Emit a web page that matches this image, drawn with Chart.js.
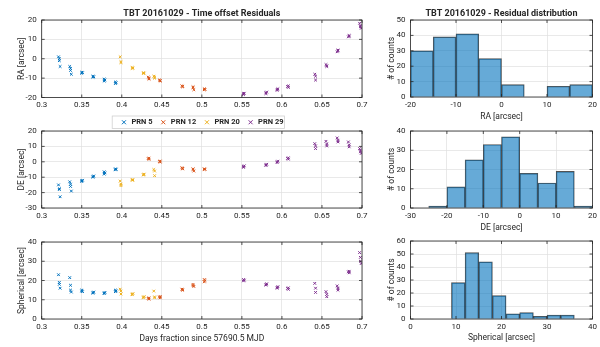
<!DOCTYPE html>
<html lang="en">
<head>
<meta charset="UTF-8" />
<title>TBT 20161029 - Time offset Residuals</title>
<script src="https://cdn.jsdelivr.net/npm/chart.js"></script>
<style>
  body { margin: 0; background: #fff; width: 600px; height: 347px; position: relative; overflow: hidden; }
  canvas { position: absolute; }
</style>
</head>
<body>

<canvas id="cRA"  width="372" height="136" style="left:0;top:0"></canvas>
<canvas id="cDE"  width="372" height="110" style="left:0;top:110px"></canvas>
<canvas id="cSPH" width="372" height="127" style="left:0;top:220px"></canvas>
<canvas id="hRA"  width="220" height="124" style="left:380px;top:0"></canvas>
<canvas id="hDE"  width="220" height="124" style="left:380px;top:110px"></canvas>
<canvas id="hSPH" width="220" height="127" style="left:380px;top:220px"></canvas>

<script>
  const FONT = 'Roboto, "Liberation Sans", sans-serif';
  const INK = '#262626';
  const GRID = '#e0e0e0';

  const prnLabels = ['PRN 5', 'PRN 12', 'PRN 20', 'PRN 29'];
  const prnColors = ['#0072BD', '#D95319', '#EDB120', '#7E2F8E'];

  // PRN 5
  const prn5T   = [0.321,0.322,0.322,0.323, 0.335,0.336,0.336,0.337, 0.350,0.350,0.351, 0.364,0.364,0.365, 0.378,0.378,0.379, 0.392,0.392,0.393];
  const prn5RA  = [1,0,-1,-4, -4,-5,-6,-8, -7,-7.5,-7.2, -9,-9.5,-9.3, -10.5,-11.5,-11, -12,-12.8,-12.4];
  const prn5DE  = [-15,-17.5,-18,-22.7, -13,-14.5,-16,-19, -12.3,-12.8,-12, -9.5,-10,-9.2, -6.5,-8,-7.2, -4.6,-5.2,-4.8];
  const prn5SPH = [23,19,18,16, 21.5,17.5,15,14, 14.5,15,14.2, 13.8,13.4,14, 13.5,13.2,13.8, 15,14.2,14.6];

  // PRN 12
  const prn12T   = [0.433,0.434,0.434, 0.447,0.448,0.448, 0.475,0.476,0.476, 0.489,0.489,0.490, 0.503,0.503,0.504];
  const prn12RA  = [-9.5,-10.5,-10, -11,-11.5,-11.2, -14,-14.5,-14.2, -14.5,-15,-16, -15.5,-16,-15.8];
  const prn12DE  = [2.1,1.6,2.4, 0.2,-0.2,0.5, -3.9,-4.3,-4.6, -4.6,-5,-6, -4.6,-5,-4.8];
  const prn12SPH = [10.7,10.3,11, 11.4,11,11.7, 15.5,15,15.2, 18,17.3,16.9, 20.5,19.3,20];

  // PRN 20
  const prn20T   = [0.398,0.399,0.399, 0.413,0.413,0.414, 0.427,0.427,0.428, 0.440,0.441,0.441];
  const prn20RA  = [1,-1.5,-2, -4.5,-5,-4.8, -7.2,-7.6,-7.4, -9,-9.5,-10];
  const prn20DE  = [-12.5,-14.5,-15.5, -11.5,-12,-11.8, -8.3,-8.6,-8, -5,-6,-9];
  const prn20SPH = [15.5,14.5,13, 12.9,12.6,13.2, 11.4,11,11.6, 14.5,11.5,11];

  // PRN 29
  const prn29T   = [0.552,0.552,0.553, 0.580,0.580,0.581, 0.594,0.594,0.595, 0.607,0.608,0.608, 0.641,0.642,0.642, 0.655,0.656,0.656, 0.669,0.670,0.670, 0.683,0.684,0.684, 0.697,0.698,0.698,0.699];
  const prn29RA  = [-18,-18.5,-17.8, -17.6,-18,-17.2, -15.8,-16.3,-15.5, -14.3,-14.8,-14, -8,-9,-11, -3,-3.6,-4, 3.6,4.1,4.5, 11.3,11.7,12, 18.3,17,16.5,15.7];
  const prn29DE  = [-3,-3.6,-2.6, -2,-2.4,-1.6, 0,-0.5,0.4, 2.2,1.7,2.6, 11.8,10.3,8.6, 13.3,11.5,10.3, 15.5,14,12.9, 12.9,11,9.7, 8.6,7.5,6.5,5.4];
  const prn29SPH = [20.5,19.8,20.2, 18,17.6,18.3, 16.4,16,16.8, 15.9,15.4,16.2, 18.5,16,13.8, 14.2,12.8,11.6, 17.2,16,15, 24.5,24,24.8, 34.5,32,30,28.8];

  // histograms: bin edges and counts
  const raEdges   = [-20,-15,-10,-5,0,5,10,15,20];
  const raCounts  = [30,39,41,25,8,0,7,8];
  const deEdges   = [-30,-25,-20,-15,-10,-5,0,5,10,15,20];
  const deCounts  = [0,1,11,25,33,37,18,13,19,1];
  const sphEdges  = [9,12,15,18,21,24,27,30,33,36];
  const sphCounts = [28,51,44,18,4,5,2,3,3];

  const prnT = [prn5T, prn12T, prn20T, prn29T];
  const prnRA = [prn5RA, prn12RA, prn20RA, prn29RA];
  const prnDE = [prn5DE, prn12DE, prn20DE, prn29DE];
  const prnSPH = [prn5SPH, prn12SPH, prn20SPH, prn29SPH];

  Chart.defaults.font.family = FONT;
  Chart.defaults.color = INK;

  // box around the axes, inward ticks and the legend frame
  const frame = {
    id: 'frame',
    afterDraw(chart) {
      const {ctx, chartArea: a, scales} = chart;
      ctx.save();
      ctx.strokeStyle = INK;
      ctx.lineWidth = 0.8;
      ctx.strokeRect(a.left, a.top, a.width, a.height);
      ctx.beginPath();
      scales.x.ticks.forEach(t => {
        const px = scales.x.getPixelForValue(t.value);
        ctx.moveTo(px, a.bottom); ctx.lineTo(px, a.bottom - 3);
        ctx.moveTo(px, a.top); ctx.lineTo(px, a.top + 3);
      });
      scales.y.ticks.forEach(t => {
        const py = scales.y.getPixelForValue(t.value);
        ctx.moveTo(a.left, py); ctx.lineTo(a.left + 3, py);
        ctx.moveTo(a.right, py); ctx.lineTo(a.right - 3, py);
      });
      ctx.stroke();
      const lg = chart.legend;
      if (lg && lg.options.display && lg.legendHitBoxes && lg.legendHitBoxes.length) {
        const hb = lg.legendHitBoxes;
        const first = hb[0], last = hb[hb.length - 1];
        ctx.strokeStyle = '#d0d0d0';
        ctx.lineWidth = 0.8;
        ctx.strokeRect(first.left - 8, first.top - 2.5, last.left + last.width + 9 - first.left, first.height + 5);
      }
      ctx.restore();
    }
  };

  const tickFont = {family: FONT, size: 8};
  const labFont = {family: FONT, size: 8.5};

  function xAxis(min, max, step, height, title, pb, fmt) {
    return {
      type: 'linear', min, max, offset: false,
      ticks: {stepSize: step, color: INK, font: tickFont, padding: 3, maxRotation: 0, autoSkip: false,
              callback: fmt || (v => String(v))},
      grid: {color: GRID, lineWidth: 0.7, drawTicks: false, offset: false},
      border: {display: false},
      title: {display: !!title, text: title || '', color: INK, font: labFont, padding: {top: 0, bottom: pb || 0}},
      afterFit: s => { s.height = height; }
    };
  }

  function yAxis(min, max, step, width, title, pt) {
    return {
      type: 'linear', min, max,
      ticks: {stepSize: step, color: INK, font: tickFont, padding: 5},
      grid: {color: GRID, lineWidth: 0.7, drawTicks: false},
      border: {display: false},
      title: {display: true, text: title, color: INK, font: labFont, padding: {top: pt, bottom: 0}},
      afterFit: s => { s.width = width; }
    };
  }

  const fmtDays = v => String(Number(v.toFixed(2)));

  function scatterSets(vals) {
    return prnLabels.map((lab, i) => ({
      label: lab,
      data: prnT[i].map((t, k) => ({x: t, y: vals[i][k]})),
      borderColor: prnColors[i],
      backgroundColor: prnColors[i],
      pointStyle: 'crossRot',
      pointRadius: 1.9,
      borderWidth: 1,
      showLine: false
    }));
  }

  function titleOpt(text) {
    return {display: !!text, text: text || '', color: INK, fullSize: false,
            font: {family: FONT, size: 9, weight: 'bold'}, padding: {top: 8, bottom: 1.2}};
  }

  function scatterChart(id, vals, yMin, yMax, yTitle, padTop, xHeight, opts) {
    return new Chart(document.getElementById(id), {
      type: 'scatter',
      data: {datasets: scatterSets(vals)},
      options: {
        responsive: false, animation: false,
        layout: {padding: {top: padTop, right: 10, left: 0, bottom: 0}},
        plugins: {
          title: titleOpt(opts.title),
          legend: opts.legend ? {
            display: true, position: 'bottom', fullSize: false,
            labels: {usePointStyle: true, boxWidth: 8, boxHeight: 4, padding: 7, color: INK,
                     font: {family: FONT, size: 7.5, weight: 'bold'}}
          } : {display: false},
          tooltip: {enabled: false}
        },
        scales: {
          x: xAxis(0.3, 0.7, 0.05, xHeight, opts.xTitle, opts.xPb, fmtDays),
          y: yAxis(yMin, yMax, 10, 41.7, yTitle, 17)
        }
      },
      plugins: [frame]
    });
  }

  function histChart(id, edges, counts, xMin, xMax, yMax, xTitle, padTop, xHeight, xPb, title) {
    const data = counts.map((c, i) => ({x: (edges[i] + edges[i + 1]) / 2, y: c}));
    return new Chart(document.getElementById(id), {
      type: 'bar',
      data: {datasets: [{
        data,
        backgroundColor: 'rgba(0,114,189,0.6)',
        borderColor: 'rgba(25,25,25,0.75)',
        borderWidth: 0.8,
        barPercentage: 1,
        categoryPercentage: 1
      }]},
      options: {
        responsive: false, animation: false,
        layout: {padding: {top: padTop, right: 6.5, left: 0, bottom: 0}},
        plugins: {title: titleOpt(title), legend: {display: false}, tooltip: {enabled: false}},
        scales: {
          x: xAxis(xMin, xMax, 10, xHeight, xTitle, xPb),
          y: yAxis(0, yMax, 10, 30.5, '# of counts', 7)
        }
      },
      plugins: [frame]
    });
  }

  scatterChart('cRA', prnRA, -20, 20, 'RA [arcsec]', 0, 14,
               {title: 'TBT 20161029 - Time offset Residuals', legend: true});
  scatterChart('cDE', prnDE, -30, 20, 'DE [arcsec]', 21, 12, {});
  scatterChart('cSPH', prnSPH, 0, 40, 'Spherical [arcsec]', 22, 28,
               {xTitle: 'Days fraction since 57690.5 MJD', xPb: 3});

  histChart('hRA', raEdges, raCounts, -20, 20, 50, 'RA [arcsec]', 0, 27, 2, 'TBT 20161029 - Residual distribution');
  histChart('hDE', deEdges, deCounts, -30, 20, 40, 'DE [arcsec]', 21, 26, 1);
  histChart('hSPH', sphEdges, sphCounts, 0, 40, 60, 'Spherical [arcsec]', 21, 28, 4);
</script>

</body>
</html>
